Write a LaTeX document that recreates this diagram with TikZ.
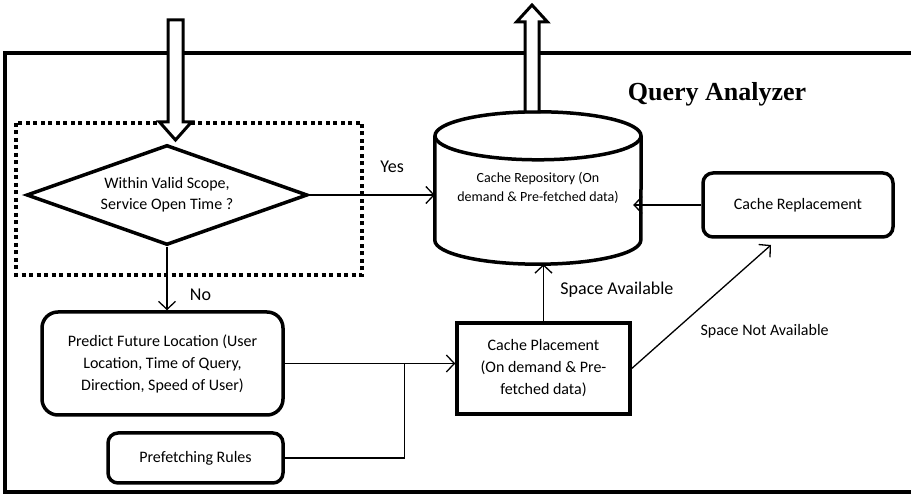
\documentclass[tikz,border=0pt]{standalone}
\usepackage{fontspec}
\setmainfont{Carlito}
\newfontfamily\titlefont{Liberation Serif}
\usetikzlibrary{shapes.geometric,arrows.meta,calc}

\begin{document}
\begin{tikzpicture}[x=1pt,y=1pt,
every node/.style={font=\fontsize{16}{21}\selectfont},
box/.style={%
draw,
line width=3.5pt,
rounded corners=14pt,
align=center,
inner sep=0pt
},
flow/.style={%
line width=1.3pt,
-{Straight Barb[length=8pt,width=17pt]}
},
hollow/.style={%
draw,
fill=white,
line width=3pt
},
lbl/.style={%
font=\fontsize{18}{22}\selectfont
}]
\useasboundingbox (0,0) rectangle (911,495);
% frame of the analyzer, open to the right
\draw[line width=3.5pt] (911,442) -- (5,442) -- (5,3) -- (911,3);
\node[font=\titlefont\bfseries\fontsize{26}{30}\selectfont] (title) at (717,401) {Query Analyzer};

% check of the incoming query
\draw[line width=3.5pt,dash pattern=on 4pt off 3.5pt] (16,372) rectangle (362,220);
\node[diamond,draw,line width=3.5pt,aspect=2.81,minimum width=281pt,minimum height=100pt,
inner sep=0pt,align=center] (scope) at (167,300) {Within Valid Scope,\\Service Open Time ?};

% cache repository, a cylinder drawn round its label
\node[font=\fontsize{14}{19}\selectfont,minimum width=206pt,minimum height=152pt,
inner sep=0pt,align=center] (repo) at (538,307) {Cache Repository (On\\demand \& Pre-fetched data)};
\draw[line width=3.5pt] ($(repo.north)+(0,-24)$) ellipse [x radius=103,y radius=24];
\draw[line width=3.5pt] ($(repo.north west)+(0,-24)$) -- ($(repo.south west)+(0,24)$)
arc[start angle=180,end angle=360,x radius=103,y radius=24] -- ($(repo.north east)+(0,-24)$);

\node[box,rounded corners=10pt,minimum width=190pt,minimum height=64pt] (replace) at (798,290) {Cache Replacement};
\node[box,sharp corners,minimum width=173pt,minimum height=91pt,
font=\fontsize{16}{22}\selectfont] (place) at (543.5,126.5) {Cache Placement\\(On demand \& Pre-\\fetched data)};
\node[box,rounded corners=16pt,minimum width=241pt,minimum height=103pt,
font=\fontsize{16}{22}\selectfont] (predict) at (162.5,131.5)
{Predict Future Location (User\\Location, Time of Query,\\Direction, Speed of User)};
\node[box,rounded corners=10pt,minimum width=175pt,minimum height=50pt] (rules) at (195.5,37) {Prefetching Rules};

% query in, result out
\coordinate (qin) at (175.5,475);
\coordinate (qtip) at (175.5,355);
\draw[hollow] ($(qin)+(-7.5,0)$) -- ($(qtip)+(-7.5,18)$) -- ($(qtip)+(-16,18)$) -- (qtip)
-- ($(qtip)+(16,18)$) -- ($(qtip)+(7.5,18)$) -- ($(qin)+(7.5,0)$) -- cycle;
\coordinate (outfoot) at ($(repo.north)+(-6,0)$);
\coordinate (out) at (532,490);
\draw[hollow] ($(outfoot)+(-7,0)$) -- ($(out)+(-7,-17)$) -- ($(out)+(-15.5,-17)$) -- (out)
-- ($(out)+(15.5,-17)$) -- ($(out)+(7,-17)$) -- ($(outfoot)+(7,0)$) -- cycle;

% connectors
\draw[flow] (scope.east) -- (repo.west |- scope.east) node[lbl,pos=0.66,above=18pt] {Yes};
\draw[flow] (scope.south) -- (scope.south |- predict.north) node[lbl,pos=0.75,right=19pt] {No};
\draw[flow] (predict.east) -- (place.west |- predict.east);
\path (predict.east) -- ++(120,0) coordinate (join);
\draw[line width=1.3pt] (rules.east) -| (join);
\draw[flow] (place.north) -- (place.north |- repo.south) node[lbl,pos=0.56,right=13pt] {Space Available};
\coordinate (full) at (771,250);
\draw[flow] (place.east) -- (full) node[pos=0.3,right=23pt] {Space Not Available};
\draw[flow,shorten >=-8pt] (replace.west) -- (repo.east |- replace.west);
\end{tikzpicture}
\end{document}
